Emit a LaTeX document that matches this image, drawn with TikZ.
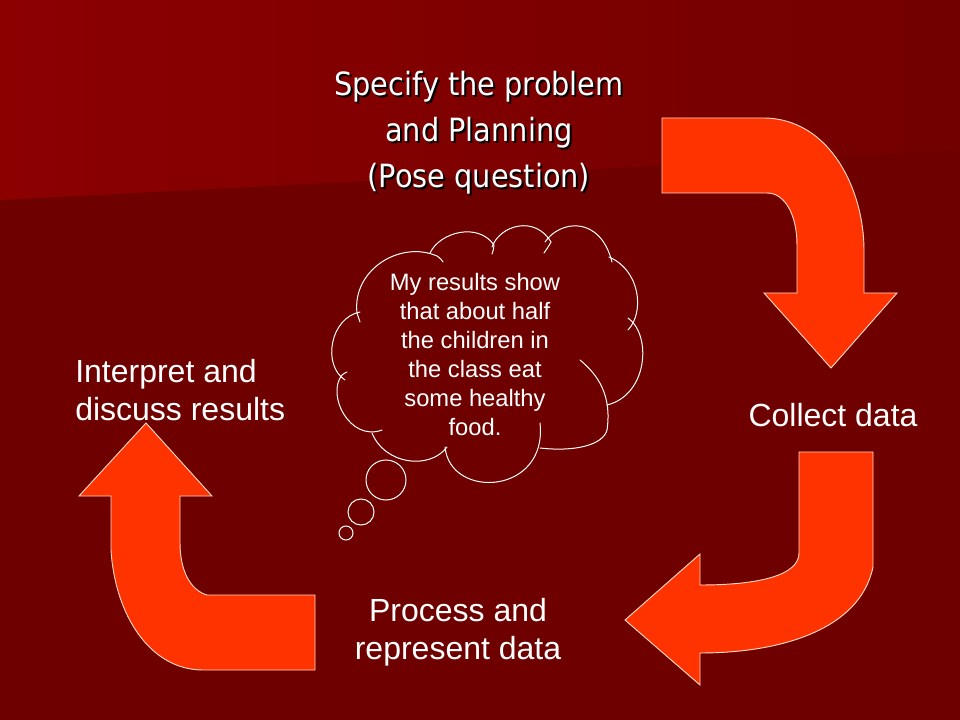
\documentclass[tikz,border=0pt]{standalone}
\usepackage{fontspec}
\setmainfont{Liberation Sans}
\newfontfamily\titlefont{DejaVu Sans Condensed}
\definecolor{bgdark}{HTML}{6E0000}
\definecolor{bglight}{HTML}{8C0000}
\definecolor{bgmid}{HTML}{720000}
\definecolor{arrowred}{HTML}{FF3300}
\definecolor{edgepale}{HTML}{FFD8C8}
\tikzset{
  bentarrow/.style={fill=arrowred, draw=edgepale, line width=0.7pt, line join=miter},
  cloudline/.style={draw=white, line width=0.75pt, line cap=round},
  steplabel/.style={text=white, inner sep=0pt, font=\fontsize{24}{28.5}\selectfont},
  titletext/.style={inner sep=0pt, align=center, font=\titlefont\fontsize{24}{34.5}\selectfont},
  thought/.style={text=white, inner sep=0pt, align=center, font=\fontsize{17.8}{21.75}\selectfont}
}
\begin{document}
\begin{tikzpicture}[x=0.75pt, y=-0.75pt]
\useasboundingbox (0,0) rectangle (960,720);
% background
\fill[bgdark] (0,0) rectangle (960,720);
\shade[left color=bglight, right color=bgmid] (0,0) -- (960,0) -- (960,150) -- (0,200) -- cycle;

% title with shadow
\node[titletext, text=black] (titleshadow) at (481,135) {Specify the problem\\and Planning\\(Pose question)};
\node[titletext, text=white] (title) at (479,133) {Specify the problem\\and Planning\\(Pose question)};

% top-right bent arrow (down)
\draw[bentarrow] (662,118) -- (763,118) .. controls (830,118) and (864,190) .. (864,250)
  -- (864,293) -- (897,293) -- (831,368) -- (764,293) -- (797,293) -- (797,245)
  .. controls (797,215) and (785,193) .. (767,193) -- (662,193) -- cycle;

% bottom-right bent arrow (left)
\draw[bentarrow] (799,452) -- (873,452) -- (873,567)
  .. controls (860,630) and (780,653) .. (700,653)
  -- (700,685) -- (625,620) -- (700,554) -- (700,585)
  .. controls (760,585) and (799,575) .. (799,553) -- cycle;

% bottom-left bent arrow (up)
\draw[bentarrow] (315,595) -- (207,595) .. controls (190,590) and (180,570) .. (180,543)
  -- (180,496) -- (212,496) -- (146,423) -- (79,496) -- (111,496) -- (111,550)
  .. controls (115,615) and (150,670) .. (203,670) -- (315,670) -- cycle;

% labels
\node[steplabel, align=left, anchor=west] (interpret) at (75,390) {Interpret and\\discuss results};
\node[steplabel, anchor=center] (collect) at (833,415) {Collect data};
\node[steplabel, align=center, anchor=center] (process) at (458,632) {Process and\\represent data};

% thought cloud
\draw[cloudline] (357,313) .. controls (352,270) and (400,240) .. (437,256)
  .. controls (440,258) and (442,260) .. (443,262);
\draw[cloudline] (430,253) .. controls (440,232) and (478,222) .. (494,245)
  .. controls (494,248) and (493,251) .. (492,254);
\draw[cloudline] (492,247) .. controls (500,225) and (535,215) .. (551,242)
  .. controls (549,246) and (546,250) .. (544,253);
\draw[cloudline] (545,242) .. controls (560,220) and (600,215) .. (612,262);
\draw[cloudline] (609,257) .. controls (640,270) and (645,312) .. (628,330);
\draw[cloudline] (628,318) .. controls (652,335) and (648,395) .. (607,405);
\draw[cloudline] (580,360) .. controls (598,375) and (612,395) .. (607,430)
  .. controls (603,445) and (575,452) .. (540,448);
\draw[cloudline] (540,423) .. controls (548,495) and (450,500) .. (445,447);
\draw[cloudline] (447,447) .. controls (430,470) and (385,465) .. (372,433);
\draw[cloudline] (382,430) .. controls (350,442) and (326,395) .. (342,375)
  .. controls (343,374) and (345,373) .. (347,372);
\draw[cloudline] (345,380) .. controls (322,365) and (330,318) .. (360,312);
\draw[cloudline] (357,313) .. controls (358,316) and (359,319) .. (360,322);

\node[thought] (thoughttext) at (475,355) {My results show\\that about half\\the children in\\the class eat\\some healthy\\food.};

% thought bubbles
\node[circle, draw=white, line width=0.75pt, minimum size=30pt, inner sep=0pt] (bubblebig) at (386,480) {};
\node[circle, draw=white, line width=0.75pt, minimum size=19.5pt, inner sep=0pt] (bubblemid) at (361,512) {};
\node[circle, draw=white, line width=0.75pt, minimum size=10.5pt, inner sep=0pt] (bubblesmall) at (346,533) {};
\end{tikzpicture}
\end{document}
